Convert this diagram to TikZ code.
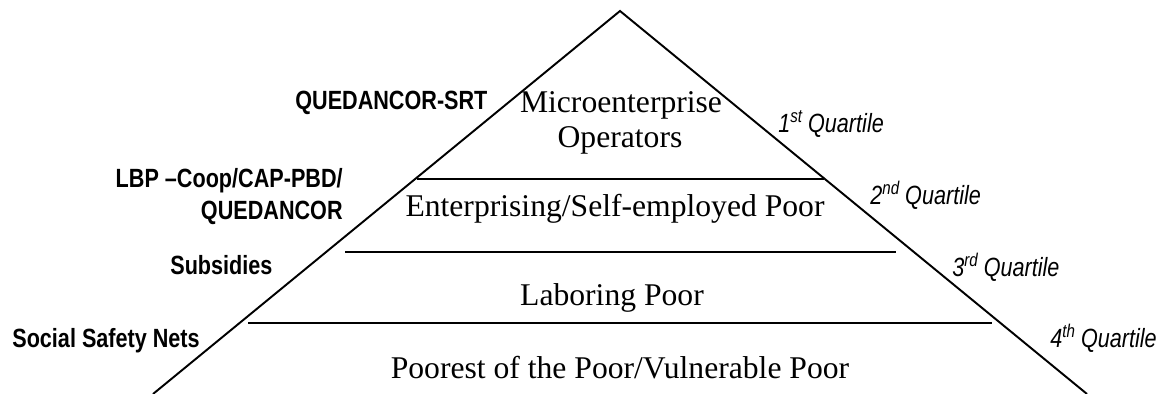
\documentclass[tikz,border=0pt]{standalone}
\usepackage{fontspec}
\setmainfont{Liberation Serif}
\newfontfamily\narrowsans[FakeStretch=0.82,Ligatures=TeX]{Liberation Sans}
\newcommand\qsup[1]{\raisebox{0.40em}{\fontsize{10.5}{11}\selectfont #1}}

\begin{document}
\begin{tikzpicture}
[x=0.02cm, y=-0.02cm,
edge/.style={line width=1.1pt},
layer/.style={font=\fontsize{18}{20}\selectfont, inner sep=0pt, anchor=base},
program/.style={font=\narrowsans\bfseries\fontsize{15}{18}\selectfont, inner sep=0pt},
quartile/.style={font=\narrowsans\itshape\fontsize{15}{18}\selectfont, inner sep=0pt, anchor=base west}]

\useasboundingbox (0,0) rectangle (1165,394);

% pyramid outline
\coordinate (apex) at (620,11);
\coordinate (baseL) at (153,394);
\coordinate (baseR) at (1087,394);
\draw[edge] (baseL) -- (apex) -- (baseR);

% layer dividers
\coordinate (d1L) at (417,179);
\coordinate (d1R) at (824,179);
\coordinate (d2L) at (345,252);
\coordinate (d2R) at (896,252);
\coordinate (d3L) at (248,323);
\coordinate (d3R) at (992,323);
\draw[edge] (d1L) -- (d1R);
\draw[edge] (d2L) -- (d2R);
\draw[edge] (d3L) -- (d3R);

% layers
\node (micro) [layer] at (621,113) {Microenterprise};
\node (oper) [layer] at (620,148) {Operators};
\node (selfemp) [layer] at (615,217) {Enterprising/Self-employed Poor};
\node (labor) [layer] at (612,306) {Laboring Poor};
\node (poorest) [layer] at (620,378) {Poorest of the Poor/Vulnerable Poor};

% programs
\node (srt) [program,anchor=base west] at (295,110) {QUEDANCOR-SRT};
\node (lbp) [program,anchor=base east] at (343,188) {LBP \textendash Coop/CAP-PBD/};
\node (qdc) [program,anchor=base east] at (343,220) {QUEDANCOR};
\node (subs) [program,anchor=base west] at (170,275) {Subsidies};
\node (ssn) [program,anchor=base west] at (12,348) {Social Safety Nets};

% quartiles
\node (q1) [quartile] at (778,133) {1\qsup{st} Quartile};
\node (q2) [quartile] at (870,205) {2\qsup{nd} Quartile};
\node (q3) [quartile] at (952,277) {3\qsup{rd} Quartile};
\node (q4) [quartile] at (1050,348) {4\qsup{th} Quartile};

\end{tikzpicture}
\end{document}
